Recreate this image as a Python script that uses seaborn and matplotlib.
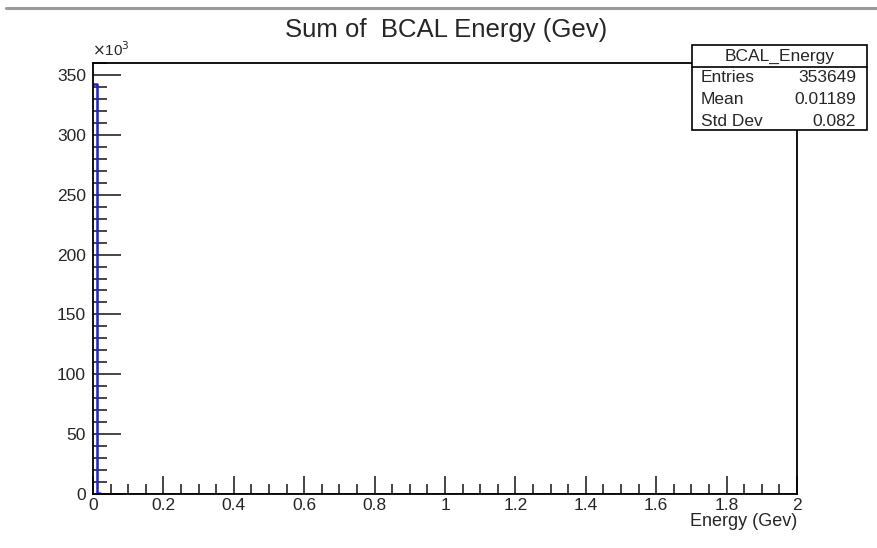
import numpy as np
import pandas as pd
import matplotlib
matplotlib.use("Agg")
import matplotlib.pyplot as plt
from matplotlib.ticker import MultipleLocator, FuncFormatter
from matplotlib.patches import Rectangle
from matplotlib.lines import Line2D
import seaborn as sns

# Histogram contents: BCAL energy sum, 200 bins over 0-2 GeV
x_min, x_max, n_bins = 0.0, 2.0, 200
leading_counts = [342500, 420, 380, 350, 330, 310, 290, 275, 260, 250,
                  240, 230, 220, 210, 200, 195, 190, 185, 180, 175,
                  170, 165, 160, 155, 150, 145, 140, 135, 130, 125,
                  120, 115, 110, 105, 100, 95, 90, 85, 80, 76,
                  72, 68, 64, 60, 56, 52, 48, 44, 40, 36,
                  32, 28, 24, 20, 16, 12, 10, 8, 6, 4]
hist_name = "BCAL_Energy"
stats_labels = ["Entries", "Mean", "Std Dev"]
stats_values = ["353649", "0.01189", "0.082"]
title = "Sum of  BCAL Energy (Gev)"
xlabel = "Energy (Gev)"

bin_width = (x_max - x_min) / n_bins
centers = x_min + bin_width * (np.arange(n_bins) + 0.5)
counts = np.zeros(n_bins)
counts[:len(leading_counts)] = leading_counts
df = pd.DataFrame({"energy": centers, "count": counts})

sns.set_style("ticks")
plt.rcParams["font.family"] = ["Liberation Sans", "DejaVu Sans"]

W, H = 877, 548
fig = plt.figure(figsize=(W / 100, H / 100), dpi=100)
fig.patch.set_facecolor("white")

def fx(px):
    return px / W

def fy(py):
    return 1 - py / H

ax = fig.add_axes([fx(93), fy(494), fx(797) - fx(93), fy(63) - fy(494)])

sns.histplot(data=df, x="energy", weights="count", binwidth=bin_width,
             binrange=(x_min, x_max), element="step", fill=False,
             color="#2020c8", linewidth=1.8, ax=ax)

ax.set_xlim(x_min, x_max)
ax.set_ylim(0, 360000)
ax.set_ylabel("")
ax.set_xlabel("")

for s in ax.spines.values():
    s.set_linewidth(1.3)
    s.set_color("black")
    s.set_visible(True)
    s.set_zorder(3)

ax.xaxis.set_major_locator(MultipleLocator(0.2))
ax.xaxis.set_minor_locator(MultipleLocator(0.05))
ax.yaxis.set_major_locator(MultipleLocator(50000))
ax.yaxis.set_minor_locator(MultipleLocator(10000))
ax.xaxis.set_major_formatter(FuncFormatter(lambda v, p: f"{v:g}"))
ax.yaxis.set_major_formatter(FuncFormatter(lambda v, p: f"{v/1000:g}"))

ax.tick_params(axis="x", which="major", direction="in", length=13, width=1.2,
               labelsize=12.5, pad=3, top=False)
ax.tick_params(axis="x", which="minor", direction="in", length=7, width=1.2, top=False)
ax.tick_params(axis="y", which="major", direction="in", length=20, width=1.2,
               labelsize=12.5, pad=5, right=False)
ax.tick_params(axis="y", which="minor", direction="in", length=10, width=1.2, right=False)

# exponent marker above the y axis
fig.text(fx(92), fy(50), r"$\times$10$^{3}$", fontsize=11, ha="left", va="center")

# title and axis label
fig.text(fx(446), fy(30), title, fontsize=18.5, ha="center", va="center")
fig.text(fx(797), fy(522), xlabel, fontsize=13, ha="right", va="center")

# thin grey frame line at the top of the canvas
fig.add_artist(Line2D([fx(6), 1], [fy(8), fy(8)], color="#9a9a9a", linewidth=2.2))

# statistics box
bx0, bx1, by0, by1, bsep = 692, 867, 45, 130, 67
fig.add_artist(Rectangle((fx(bx0), fy(by1)), fx(bx1) - fx(bx0), fy(by0) - fy(by1),
                         facecolor="white", edgecolor="black", linewidth=1.2,
                         transform=fig.transFigure, zorder=5))
fig.add_artist(Line2D([fx(bx0), fx(bx1)], [fy(bsep), fy(bsep)], color="black",
                      linewidth=1.2, zorder=6))
fig.text(fx((bx0 + bx1) / 2), fy(56), hist_name, fontsize=12.5, ha="center",
         va="center", zorder=7)
for i, (lab, val) in enumerate(zip(stats_labels, stats_values)):
    y = 78 + i * 21.5
    fig.text(fx(701), fy(y), lab, fontsize=12.5, ha="left", va="center", zorder=7)
    fig.text(fx(856), fy(y), val, fontsize=12.5, ha="right", va="center", zorder=7)

fig.savefig("out.png", dpi=100)
